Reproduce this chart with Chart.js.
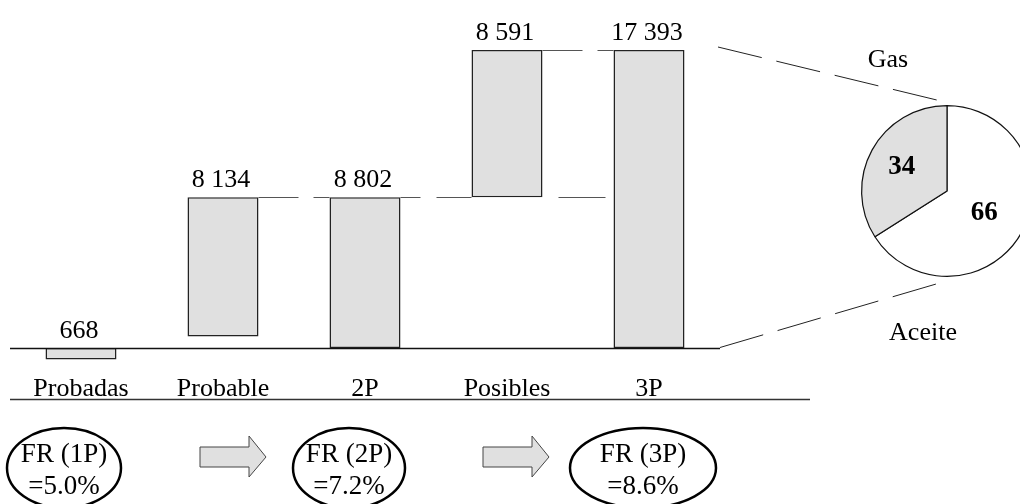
<!DOCTYPE html>
<html>
<head>
<meta charset="utf-8">
<script src="https://cdn.jsdelivr.net/npm/chart.js@4/dist/chart.umd.min.js"></script>
<style>
  html, body { margin: 0; padding: 0; background: #fff; overflow: hidden; }
  #wrap { position: relative; width: 1020px; height: 504px; overflow: hidden; }
  #bars { position: absolute; left: 0; top: 0; }
  #mixBox { position: absolute; left: 857px; top: 101px; width: 180px; height: 180px; }
</style>
</head>
<body>
<div id="wrap">
  <canvas id="bars" width="1020" height="504"></canvas>
  <div id="mixBox"><canvas id="mix" width="180" height="180"></canvas></div>
</div>
<script>
// Reservas por categoría (cifras mostradas sobre cada barra)
const categories = ['Probadas', 'Probable', '2P', 'Posibles', '3P'];
const reserves = [668, 8134, 8802, 8591, 17393];

// Composición de la reserva 3P (%)
const mixLabels = ['Aceite', 'Gas'];
const mixShares = [66, 34];

// Factores de recuperación
const ratioLabels = ['FR (1P)', 'FR (2P)', 'FR (3P)'];
const ratioValues = [5.0, 7.2, 8.6];

const SERIF = "'Liberation Serif', 'Times New Roman', serif";
const FILL = '#e0e0e0';

// Cascada: probadas bajo el eje, probable y posibles flotando sobre los acumulados
const ranges = [
  [0, -reserves[0]],
  [reserves[0], reserves[0] + reserves[1]],
  [0, reserves[2]],
  [reserves[2], reserves[2] + reserves[3]],
  [0, reserves[4]]
];

function fmt(n) {
  return String(n).replace(/\B(?=(\d{3})+(?!\d))/g, ' ');
}

function dashedLine(ctx, x1, y1, x2, y2, dash, color, width) {
  ctx.save();
  ctx.strokeStyle = color;
  ctx.lineWidth = width;
  ctx.setLineDash(dash);
  ctx.beginPath();
  ctx.moveTo(x1, y1);
  ctx.lineTo(x2, y2);
  ctx.stroke();
  ctx.restore();
}

// Líneas discontinuas que unen los niveles acumulados
const connectors = {
  id: 'connectors',
  beforeDatasetsDraw(chart) {
    const ctx = chart.ctx;
    const y = chart.scales.y;
    const bars = chart.getDatasetMeta(0).data;
    const right = i => bars[i].x + bars[i].width / 2;
    const left = i => bars[i].x - bars[i].width / 2;
    const lvl2 = Math.round(y.getPixelForValue(ranges[2][1])) + 0.5;
    const lvl3 = Math.round(y.getPixelForValue(ranges[4][1])) + 0.5;
    dashedLine(ctx, right(1), lvl2, left(2), lvl2, [40, 15], '#555', 1);
    dashedLine(ctx, right(2), lvl2, left(3), lvl2, [20, 16, 40, 15], '#555', 1);
    dashedLine(ctx, right(3) + 16, lvl2, left(4), lvl2, [47, 15], '#555', 1);
    dashedLine(ctx, right(3), lvl3, left(4), lvl3, [40, 15], '#555', 1);
  }
};

// Eje base, rótulos, unión con el pastel y factores de recuperación
const decorations = {
  id: 'decorations',
  afterDatasetsDraw(chart) {
    const ctx = chart.ctx;
    const x = chart.scales.x;
    const y = chart.scales.y;
    const area = chart.chartArea;
    const bars = chart.getDatasetMeta(0).data;
    const zero = Math.round(y.getPixelForValue(0)) + 0.5;

    ctx.save();
    ctx.strokeStyle = '#111';
    ctx.lineWidth = 1.5;
    ctx.beginPath();
    ctx.moveTo(area.left, zero);
    ctx.lineTo(area.right, zero);
    ctx.stroke();

    // valores sobre las barras
    ctx.fillStyle = '#000';
    ctx.font = '26px ' + SERIF;
    ctx.textAlign = 'center';
    ctx.textBaseline = 'alphabetic';
    reserves.forEach((v, i) => {
      const top = y.getPixelForValue(Math.max(ranges[i][0], ranges[i][1], 0));
      ctx.fillText(fmt(v), bars[i].x - 2, top - 10);
    });

    // categorías
    categories.forEach((c, i) => {
      ctx.fillText(c, x.getPixelForValue(i), 396);
    });

    // línea inferior
    ctx.strokeStyle = '#333';
    ctx.lineWidth = 1.5;
    ctx.beginPath();
    ctx.moveTo(area.left, 399.5);
    ctx.lineTo(810, 399.5);
    ctx.stroke();

    // proyección hacia el pastel
    const top3 = y.getPixelForValue(ranges[4][1]);
    dashedLine(ctx, area.right - 2, top3 - 3, 945, 102, [45, 15], '#222', 1);
    dashedLine(ctx, area.right, zero - 1, 943, 282, [45, 15], '#222', 1);

    ctx.font = '26px ' + SERIF;
    ctx.fillStyle = '#000';
    ctx.fillText(mixLabels[1], 888, 67);
    ctx.fillText(mixLabels[0], 923, 340);

    // factores de recuperación
    const ovals = [
      { cx: 64, rx: 57 },
      { cx: 349, rx: 56 },
      { cx: 643, rx: 73 }
    ];
    ovals.forEach((o, i) => {
      ctx.beginPath();
      ctx.ellipse(o.cx, 468, o.rx, 40, 0, 0, Math.PI * 2);
      ctx.strokeStyle = '#000';
      ctx.lineWidth = 2.5;
      ctx.stroke();
      ctx.font = '27px ' + SERIF;
      ctx.fillStyle = '#000';
      ctx.fillText(ratioLabels[i], o.cx, 462);
      ctx.fillText('=' + ratioValues[i].toFixed(1) + '%', o.cx, 494);
    });

    const arrows = [200, 483];
    arrows.forEach(ax => {
      ctx.beginPath();
      ctx.moveTo(ax, 447);
      ctx.lineTo(ax + 49, 447);
      ctx.lineTo(ax + 49, 436);
      ctx.lineTo(ax + 66, 457);
      ctx.lineTo(ax + 49, 477);
      ctx.lineTo(ax + 49, 467);
      ctx.lineTo(ax, 467);
      ctx.closePath();
      ctx.fillStyle = FILL;
      ctx.fill();
      ctx.strokeStyle = '#444';
      ctx.lineWidth = 1;
      ctx.stroke();
    });
    ctx.restore();
  }
};

new Chart(document.getElementById('bars'), {
  type: 'bar',
  data: {
    labels: categories,
    datasets: [{
      data: ranges,
      backgroundColor: FILL,
      borderColor: '#222',
      borderWidth: 1.5,
      borderSkipped: false,
      barPercentage: 0.5,
      categoryPercentage: 1
    }]
  },
  options: {
    responsive: false,
    animation: false,
    devicePixelRatio: 1,
    layout: { padding: { left: 10, right: 300, top: 50, bottom: 138.87 } },
    plugins: { legend: { display: false }, tooltip: { enabled: false } },
    scales: {
      x: { display: false },
      y: { display: false, min: -1000, max: reserves[4] }
    }
  },
  plugins: [connectors, decorations]
});

// Cifras dentro de cada sector
const sliceLabels = {
  id: 'sliceLabels',
  afterDatasetsDraw(chart) {
    const ctx = chart.ctx;
    chart.getDatasetMeta(0).data.forEach((arc, i) => {
      const mid = (arc.startAngle + arc.endAngle) / 2;
      const r = arc.outerRadius * 0.55;
      ctx.save();
      ctx.font = 'bold 27px ' + SERIF;
      ctx.fillStyle = '#000';
      ctx.textAlign = 'center';
      ctx.textBaseline = 'middle';
      ctx.fillText(String(mixShares[i]), arc.x + Math.cos(mid) * r - 4, arc.y + Math.sin(mid) * r - 1);
      ctx.restore();
    });
  }
};

new Chart(document.getElementById('mix'), {
  type: 'pie',
  data: {
    labels: mixLabels,
    datasets: [{
      data: mixShares,
      backgroundColor: ['#ffffff', FILL],
      borderColor: '#111',
      borderWidth: 1.2
    }]
  },
  options: {
    responsive: false,
    animation: false,
    devicePixelRatio: 1,
    layout: { padding: 4 },
    plugins: { legend: { display: false }, tooltip: { enabled: false } }
  },
  plugins: [sliceLabels]
});
</script>
</body>
</html>
